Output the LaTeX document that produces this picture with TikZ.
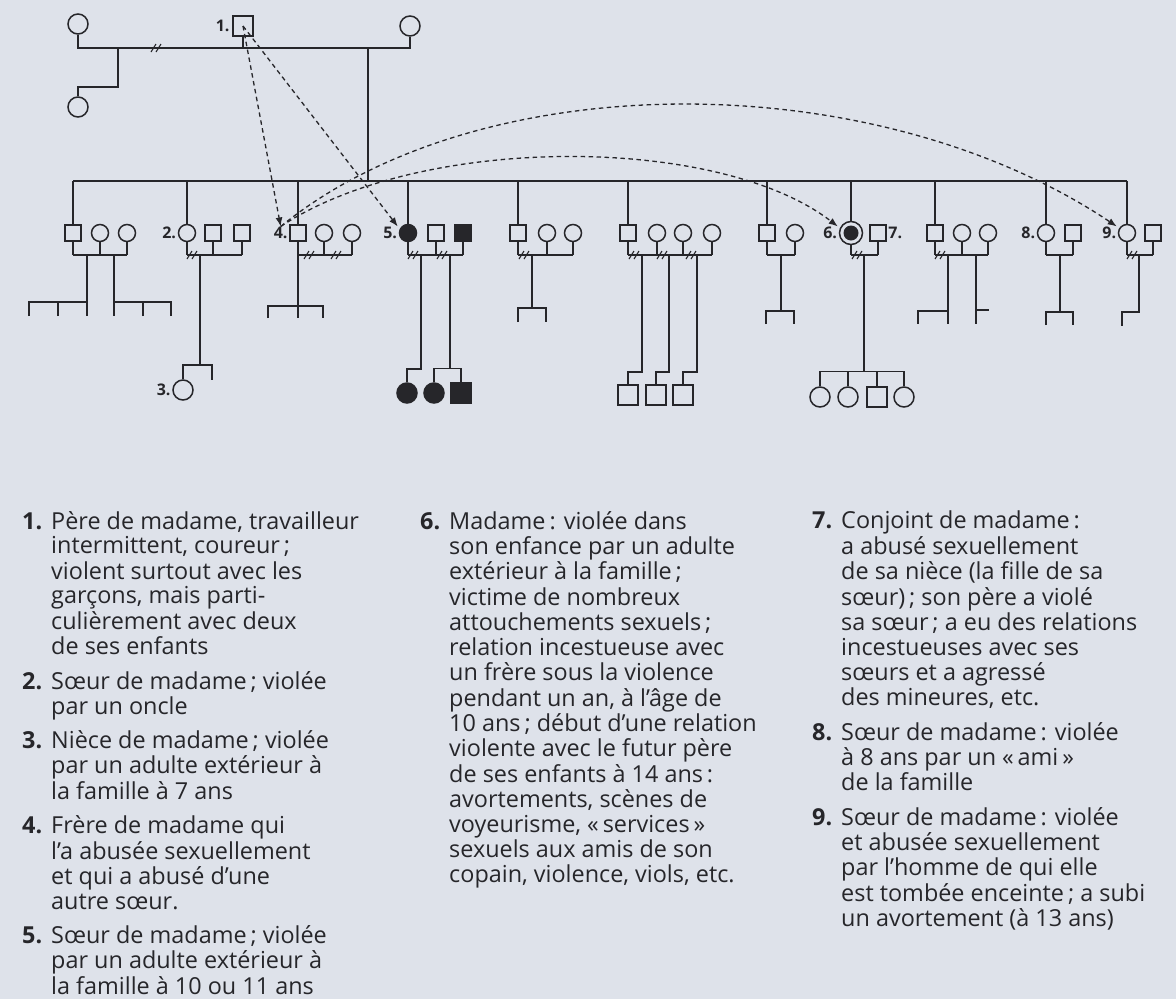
\documentclass[tikz,border=0pt]{standalone}
\usepackage{fontspec}
\setmainfont{Open Sans}
\usetikzlibrary{arrows.meta, positioning, calc}

\definecolor{paper}{RGB}{222,226,234}
\definecolor{ink}{RGB}{38,38,42}

\begin{document}
\begin{tikzpicture}[
    x=1pt, y=-1pt,
    link/.style={draw=ink, line width=1.5pt},
    male/.style={draw=ink, line width=1.5pt, rectangle, inner sep=0pt, minimum size=16pt},
    female/.style={draw=ink, line width=1.5pt, circle, inner sep=0pt, minimum size=17pt},
    big/.style={minimum size=20pt},
    victim/.style={fill=ink},
    num/.style={font=\bfseries\fontsize{16}{16}\selectfont, text=ink, inner sep=0.5pt},
    abuse/.style={-{Latex[length=9pt, width=7pt]}, dash pattern=on 4.5pt off 3.5pt, draw=ink, line width=1.3pt},
    legend/.style={anchor=north west, inner sep=0pt, text=ink, font=\fontsize{23.4}{24.8}\selectfont},
    cut/.pic={\draw[link, line width=1.1pt] (-6,4) -- (-1,-4) (-1,4) -- (4,-4);}
]
    \fill[paper] (0,0) rectangle (1176,999);
    \useasboundingbox (0,0) rectangle (1176,999);

    % Generation I
    \node[female, big] (gm1) at (78,24) {};
    \node[male, big] (p1) at (243,26) {};
    \node[female, big] (gm2) at (410,26) {};
    \node[female, big] (hs) at (78,107) {};
    \node[num, left=2pt of p1] (l1) {1.};

    \coordinate (mar) at (0,48);
    \coordinate (sib) at (368,181);
    \coordinate (hsD) at (118,48);
    \draw[link] (gm1.south) |- (gm2.south |- mar) -- (gm2.south);
    \draw[link] (p1.south) -- (p1.south |- mar);
    \pic at (157,48) {cut};
    \draw[link] (hsD) -- ++(0,39) -| (hs.north);
    \draw[link] (sib |- mar) -- (sib);

    % Generation II
    \node[male] (a1) at (73,233) {};
    \node[female] (a2) at (100,233) {};
    \node[female] (a3) at (127,233) {};
    \node[female] (b1) at (187,233) {};
    \node[male] (b2) at (213,233) {};
    \node[male] (b3) at (242,233) {};
    \node[male] (c1) at (298,233) {};
    \node[female] (c2) at (324,233) {};
    \node[female] (c3) at (352,233) {};
    \node[female, victim] (d1) at (408,233) {};
    \node[male] (d2) at (436,233) {};
    \node[male, victim] (d3) at (463,233) {};
    \node[male] (e1) at (518,233) {};
    \node[female] (e2) at (547,233) {};
    \node[female] (e3) at (573,233) {};
    \node[male] (f1) at (628,233) {};
    \node[female] (f2) at (657,233) {};
    \node[female] (f3) at (683,233) {};
    \node[female] (f4) at (712,233) {};
    \node[male] (g1) at (767,233) {};
    \node[female] (g2) at (795,233) {};
    \node[female, minimum size=23pt] (h1) at (851,233) {};
    \fill[ink] (h1.center) circle (7.5pt);
    \node[male] (h2) at (878,233) {};
    \node[male] (i1) at (935,233) {};
    \node[female] (i2) at (962,233) {};
    \node[female] (i3) at (988,233) {};
    \node[female] (j1) at (1046,233) {};
    \node[male] (j2) at (1073,233) {};
    \node[female] (k1) at (1127,233) {};
    \node[male] (k2) at (1153,233) {};

    \node[num, left=1pt of b1] (l2) {2.};
    \node[num, left=1pt of c1] (l4) {4.};
    \node[num, left=1pt of d1] (l5) {5.};
    \node[num, left=1pt of h1] (l6) {6.};
    \node[num, right=1pt of h2] (l7) {7.};
    \node[num, left=1pt of j1] (l8) {8.};
    \node[num, left=1pt of k1] (l9) {9.};

    % sibship and couples
    \draw[link] (a1.north |- sib) -- (k1.north |- sib);
    \foreach \n in {a1,b1,c1,d1,e1,f1,g1,h1,i1,j1,k1}
        \draw[link] (\n.north) -- (\n.north |- sib);

    \coordinate (mate) at (0,255);
    \foreach \n in {a1,a2,a3,b1,b2,b3,c2,c3,d1,d2,d3,e1,e2,e3,f1,f2,f3,f4,g1,g2,h1,h2,i1,i2,i3,j1,j2,k1,k2}
        \draw[link] (\n.south) -- (\n.south |- mate);
    \foreach \u/\v in {a1/a3,b1/b3,c1/c3,d1/d3,e1/e3,f1/f4,g1/g2,h1/h2,i1/i3,j1/j2,k1/k2}
        \draw[link] (\u.south |- mate) -- (\v.south |- mate);
    \foreach \x in {193,310,337,414,443,525,635,663,692,858,941,1133}
        \pic at (\x,255) {cut};

    % Family A
    \coordinate (aL) at (87,255);
    \coordinate (aR) at (114,255);
    \draw[link] (aL) -- ++(0,61);
    \draw[link] (aL) ++(-58,61) -- ++(0,-14) -- ++(58,0);
    \draw[link] (aL) ++(-29,61) -- ++(0,-14);
    \draw[link] (aR) -- ++(0,61);
    \draw[link] (aR) ++(57,61) -- ++(0,-14) -- ++(-57,0);
    \draw[link] (aR) ++(29,61) -- ++(0,-14);

    % Family B
    \node[female, big] (n3) at (183,390) {};
    \node[num, left=1pt of n3] (l3) {3.};
    \coordinate (bD) at (200,255);
    \draw[link] (bD) -- ++(0,110) coordinate (bS) -| (n3.north);
    \draw[link] (bS) -- ++(12,0) -- ++(0,15);

    % Family C
    \coordinate (cS) at (298,306);
    \draw[link] (c1.south) -- (cS) -- ++(0,12);
    \draw[link] (cS) ++(-30,12) -- ++(0,-12) -- ++(55,0) -- ++(0,12);

    % Family D
    \node[female, big, victim] (d4) at (407,393) {};
    \node[female, big, victim] (d5) at (434,393) {};
    \node[male, big, victim] (d6) at (461,393) {};
    \coordinate (dL) at (421,255);
    \coordinate (dR) at (450,255);
    \draw[link] (dL) -- ++(0,114) -| (d4.north);
    \draw[link] (dR) -- ++(0,114);
    \draw[link] (d5.north) -- ++(0,-14) -| (d6.north);

    % Family E
    \coordinate (eD) at (532,255);
    \draw[link] (eD) -- ++(0,53) ++(-14,14) -- ++(0,-14) -- ++(28,0) -- ++(0,14);

    % Family F
    \node[male, big] (f5) at (628,395) {};
    \node[male, big] (f6) at (656,395) {};
    \node[male, big] (f7) at (683,395) {};
    \coordinate (fD5) at (642,255);
    \coordinate (fD6) at (669,255);
    \coordinate (fD7) at (697,255);
    \foreach \c in {5,6,7}
        \draw[link] (fD\c) -- ++(0,117) -| (f\c.north);

    % Family G
    \coordinate (gD) at (781,255);
    \draw[link] (gD) -- ++(0,56) ++(-15,13) -- ++(0,-13) -- ++(28,0) -- ++(0,13);

    % Family H (madame)
    \node[female, big] (h3) at (820,397) {};
    \node[female, big] (h4) at (848,397) {};
    \node[male, big] (h5) at (877,397) {};
    \node[female, big] (h6) at (904,397) {};
    \coordinate (hD) at (864,255);
    \draw[link] (hD) -- ++(0,117);
    \draw[link] (h3.north) -- ++(0,-15) -| (h6.north);
    \draw[link] (h4.north) -- ++(0,-15);
    \draw[link] (h5.north) -- ++(0,-15);

    % Family I
    \coordinate (iL) at (948,255);
    \coordinate (iR) at (976,255);
    \draw[link] (iL) -- ++(0,69);
    \draw[link] (iL) ++(0,56) -- ++(-30,0) -- ++(0,13);
    \draw[link] (iR) -- ++(0,69);
    \draw[link] (iR) ++(0,55) -- ++(13,0);

    % Family J
    \coordinate (jD) at (1060,255);
    \draw[link] (jD) -- ++(0,57) ++(-14,13) -- ++(0,-13) -- ++(27,0) -- ++(0,13);

    % Family K
    \coordinate (kD) at (1139,255);
    \draw[link] (kD) -- ++(0,57) -- ++(-17,0) -- ++(0,14);

    % Abuse arrows
    \draw[abuse] (p1.center) -- (l4.north);
    \draw[abuse] (p1.center) -- (l5.north east);
    \draw[abuse] (l4.north) .. controls (420,134) and (718,134) .. (l6.north east);
    \draw[abuse] (l4.north) .. controls (480,64) and (874,64) .. (l9.north east);

    % Legend
    \node[legend] (leg1) at (22,511) {\begin{tabular}{@{}r@{\hspace{9pt}}l@{}}
        \textbf{1.} & Père de madame, travailleur\\
        & intermittent, coureur\,;\\
        & violent surtout avec les\\
        & garçons, mais parti-\\
        & culièrement avec deux\\
        & de ses enfants\\[9pt]
        \textbf{2.} & Sœur de madame\,; violée\\
        & par un oncle\\[9pt]
        \textbf{3.} & Nièce de madame\,; violée\\
        & par un adulte extérieur à\\
        & la famille à 7 ans\\[9pt]
        \textbf{4.} & Frère de madame qui\\
        & l’a abusée sexuellement\\
        & et qui a abusé d’une\\
        & autre sœur.\\[9pt]
        \textbf{5.} & Sœur de madame\,; violée\\
        & par un adulte extérieur à\\
        & la famille à 10 ou 11 ans
    \end{tabular}};
    \node[legend] (leg2) at (420,511) {\begin{tabular}{@{}r@{\hspace{9pt}}l@{}}
        \textbf{6.} & Madame\,: violée dans\\
        & son enfance par un adulte\\
        & extérieur à la famille\,;\\
        & victime de nombreux\\
        & attouchements sexuels\,;\\
        & relation incestueuse avec\\
        & un frère sous la violence\\
        & pendant un an, à l’âge de\\
        & 10 ans\,; début d’une relation\\
        & violente avec le futur père\\
        & de ses enfants à 14 ans\,:\\
        & avortements, scènes de\\
        & voyeurisme, «\,services\,»\\
        & sexuels aux amis de son\\
        & copain, violence, viols, etc.
    \end{tabular}};
    \node[legend] (leg3) at (812,511) {\begin{tabular}{@{}r@{\hspace{9pt}}l@{}}
        \textbf{7.} & Conjoint de madame\,:\\
        & a abusé sexuellement\\
        & de sa nièce (la fille de sa\\
        & sœur)\,; son père a violé\\
        & sa sœur\,; a eu des relations\\
        & incestueuses avec ses\\
        & sœurs et a agressé\\
        & des mineures, etc.\\[9pt]
        \textbf{8.} & Sœur de madame\,: violée\\
        & à 8 ans par un «\,ami\,»\\
        & de la famille\\[9pt]
        \textbf{9.} & Sœur de madame\,: violée\\
        & et abusée sexuellement\\
        & par l’homme de qui elle\\
        & est tombée enceinte\,; a subi\\
        & un avortement (à 13 ans)
    \end{tabular}};
\end{tikzpicture}
\end{document}
